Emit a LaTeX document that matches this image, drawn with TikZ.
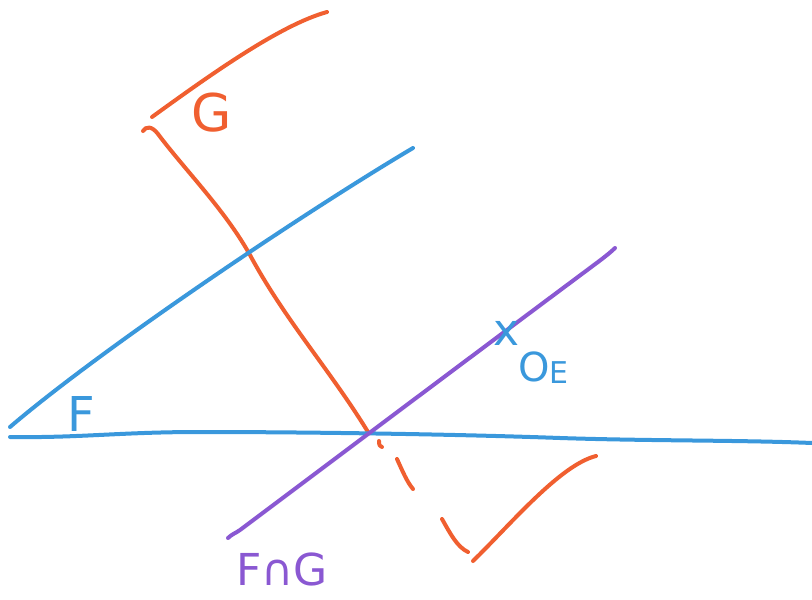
\documentclass[tikz,border=0pt]{standalone}
\usepackage{fontspec}
\setmainfont{DejaVu Sans}
\definecolor{sorange}{HTML}{F05F30}
\definecolor{sblue}{HTML}{3A98DC}
\definecolor{spurple}{HTML}{8A58D2}
\tikzset{
  stroke/.style={line width=4pt, line cap=round, line join=round},
  lbl/.style={inner sep=0pt, font=\fontsize{#1}{#1}\selectfont},
}
\begin{document}
\begin{tikzpicture}[x=1pt,y=-1pt]
\useasboundingbox (0,0) rectangle (812,600);
% orange plane G
\draw[stroke, sorange] (152,117) .. controls (210,75) and (280,25) .. (327,12);
\draw[stroke, sorange] (143,131) .. controls (146,126) and (152,126) .. (158,134)
  .. controls (185,170) and (225,210) .. (250,255)
  .. controls (285,320) and (330,370) .. (368,432);
\draw[stroke, sorange] (379,441) .. controls (379,445) and (380,447) .. (382,447);
\draw[stroke, sorange] (397,459) .. controls (402,470) and (407,482) .. (413,489);
\draw[stroke, sorange] (442,519) .. controls (450,533) and (457,547) .. (468,552);
\draw[stroke, sorange] (473,561) .. controls (510,525) and (560,465) .. (596,456);
% blue plane F
\draw[stroke, sblue] (10,427) .. controls (100,350) and (300,215) .. (413,148);
\draw[stroke, sblue] (10,437) .. controls (80,438) and (120,432) .. (200,432)
  .. controls (300,432) and (450,434) .. (560,438)
  .. controls (650,441) and (740,440) .. (812,443);
% purple line F cap G
\draw[stroke, spurple] (228,538) .. controls (232,534) and (236,533) .. (240,530)
  .. controls (360,440) and (500,335) .. (598,262)
  .. controls (606,256) and (612,251) .. (615,248);
% labels
\node[lbl=52, text=sorange] (G) at (212,113) {G};
\node[lbl=48, text=sblue] (F) at (81,414) {F};
\node[lbl=44, text=sblue] (X) at (507,333) {x};
\node[lbl=40, text=sblue, anchor=west] (OE) at (518,368) {O\raisebox{-2pt}{\fontsize{30}{30}\selectfont E}};
\node[lbl=44, text=spurple] (FG) at (282,569) {F∩G};
\end{tikzpicture}
\end{document}
